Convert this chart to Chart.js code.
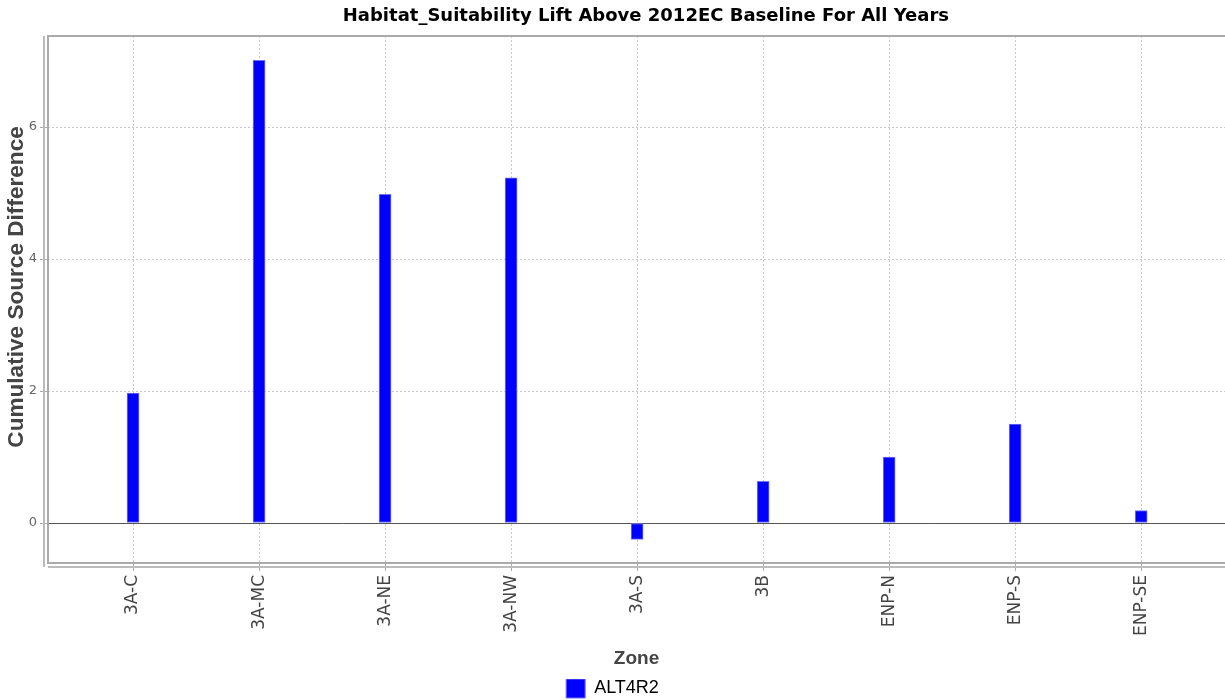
<!DOCTYPE html>
<html>
<head>
<meta charset="utf-8">
<script src="https://cdn.jsdelivr.net/npm/chart.js@4/dist/chart.umd.min.js"></script>
<style>
  body { margin: 0; background: #fff; overflow: hidden; }
</style>
</head>
<body>
<canvas id="chart" width="1225" height="700"></canvas>
<script>
const zones = ["3A-C", "3A-MC", "3A-NE", "3A-NW", "3A-S", "3B", "ENP-N", "ENP-S", "ENP-SE"];
const alt4r2 = [1.97, 7.01, 4.98, 5.23, -0.25, 0.63, 1.0, 1.5, 0.19];
const yTicks = [0, 2, 4, 6];

// frame lines like the java chart: plot border, offset axis lines, zero line
const framePlugin = {
    id: "frame",
    beforeDatasetsDraw(chart) {
        const a = chart.chartArea;
        const ctx = chart.ctx;
        const y0 = chart.scales.y.getPixelForValue(0);
        ctx.save();
        ctx.strokeStyle = "#555";
        ctx.lineWidth = 1;
        ctx.beginPath();
        ctx.moveTo(a.left, Math.round(y0) + 0.5);
        ctx.lineTo(a.right, Math.round(y0) + 0.5);
        ctx.stroke();
        ctx.restore();
    },
    afterDraw(chart) {
        const a = chart.chartArea;
        const ctx = chart.ctx;
        ctx.save();
        ctx.strokeStyle = "#aaa";
        ctx.lineWidth = 2;
        ctx.strokeRect(a.left, a.top, a.right - a.left + 2, a.bottom - a.top);
        ctx.strokeStyle = "#bbb";
        ctx.beginPath();
        ctx.moveTo(a.left - 4, a.top);
        ctx.lineTo(a.left - 4, a.bottom + 4);
        ctx.moveTo(a.left, a.bottom + 4);
        ctx.lineTo(a.right, a.bottom + 4);
        ctx.stroke();
        ctx.restore();
    },
};

const ctx = document.getElementById("chart");
new Chart(ctx, {
    type: "bar",
    data: {
        datasets: [
            {
                label: "ALT4R2",
                data: alt4r2.map((v, i) => ({ x: i, y: v })),
                backgroundColor: "#0000ff",
                borderColor: "#6f6fff",
                borderWidth: 1,
                borderSkipped: false,
                barThickness: 12,
            },
        ],
    },
    plugins: [framePlugin],
    options: {
        responsive: false,
        animation: false,
        layout: { padding: { left: 0, right: 0, top: 0, bottom: -8 } },
        plugins: {
            title: {
                display: true,
                fullSize: false,
                text: "\u00a0\u00a0\u00a0Habitat_Suitability Lift Above 2012EC Baseline For All Years",
                color: "#000",
                font: { family: "'DejaVu Sans', sans-serif", size: 18, weight: "bold", lineHeight: 1.2 },
                padding: { top: 6, bottom: 8.4 },
            },
            legend: {
                position: "bottom",
                labels: {
                    color: "#000",
                    font: { family: "'Liberation Sans', Arial, sans-serif", size: 18 },
                    boxWidth: 19,
                    boxHeight: 19,
                    padding: 0,
                },
            },
            tooltip: { enabled: false },
        },
        scales: {
            x: {
                type: "linear",
                offset: false,
                min: -0.675,
                max: 8.665,
                afterFit(s) { s.height = 116; },
                afterBuildTicks(s) {
                    s.ticks = s.ticks.filter((t) => Number.isInteger(t.value));
                },
                ticks: {
                    stepSize: 1,
                    autoSkip: false,
                    minRotation: 90,
                    maxRotation: 90,
                    padding: 4,
                    color: "#444",
                    font: { family: "'DejaVu Sans', sans-serif", size: 17 },
                    callback: (v) => zones[v] ?? "",
                },
                grid: {
                    offset: false,
                    color: "#c8c8c8",
                    lineWidth: 1,
                    tickLength: 8,
                    tickColor: "#aaa",
                },
                border: { display: false, dash: [2, 2] },
                title: {
                    display: true,
                    text: "Zone",
                    color: "#444",
                    font: { family: "'Liberation Sans', Arial, sans-serif", size: 19, weight: "bold", lineHeight: 2.16 },
                    padding: 0,
                },
            },
            y: {
                min: -0.606,
                max: 7.38,
                afterFit(s) { s.width = 48; },
                afterBuildTicks(s) {
                    s.ticks = yTicks.map((v) => ({ value: v }));
                },
                ticks: {
                    color: "#666",
                    padding: 3,
                    font: { family: "'DejaVu Sans', sans-serif", size: 13 },
                },
                grid: {
                    color: "#c8c8c8",
                    lineWidth: 1,
                    tickLength: 8,
                    tickColor: "#aaa",
                },
                border: { display: false, dash: [2, 2] },
                title: {
                    display: true,
                    text: "\u00a0\u00a0\u00a0\u00a0Cumulative Source Difference",
                    color: "#444",
                    font: { family: "'Liberation Sans', Arial, sans-serif", size: 22.6, weight: "bold", lineHeight: 1.2 },
                    padding: { top: 3, bottom: 0 },
                },
            },
        },
    },
});
</script>
</body>
</html>
